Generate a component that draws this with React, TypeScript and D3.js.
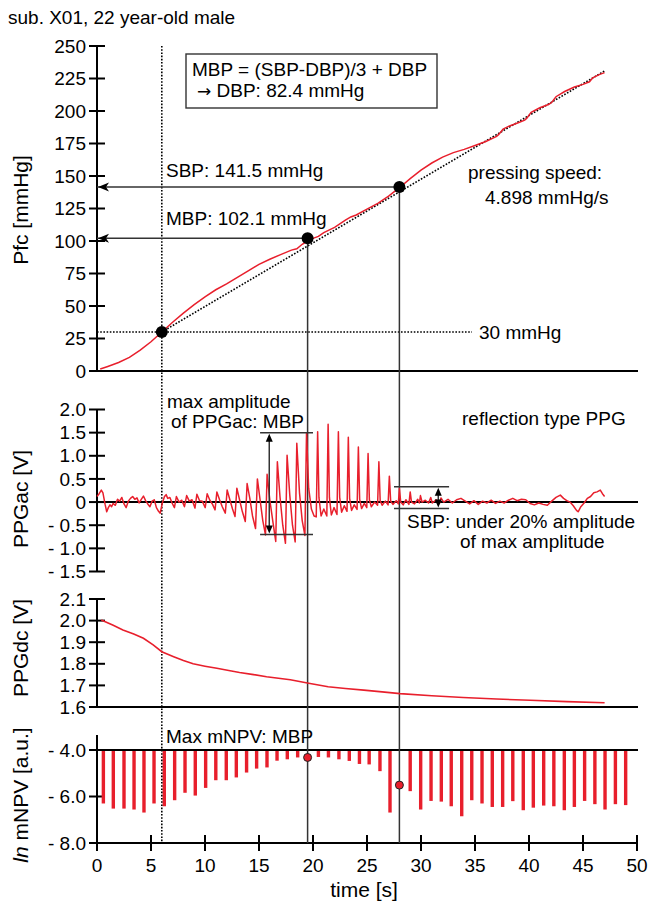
import { scaleLinear, line } from "d3";

const RED = "#e81f2c";
const INK = "#333";
const FONT = '"Liberation Sans", Arial, Helvetica, sans-serif';

// ticks
const timeTicks = [0, 5, 10, 15, 20, 25, 30, 35, 40, 45, 50];
const pfcTicks = [0, 25, 50, 75, 100, 125, 150, 175, 200, 225, 250];
const ppgacTicks = [2, 1.5, 1, 0.5, 0, -0.5, -1, -1.5];
const ppgacTickLabels = ["2.0", "1.5", "1.0", "0.5", "0", "- 0.5", "- 1.0", "- 1.5"];
const ppgdcTicks = [2.1, 2.0, 1.9, 1.8, 1.7, 1.6];
const ppgdcTickLabels = ["2.1", "2.0", "1.9", "1.8", "1.7", "1.6"];
const npvTicks = [-4, -6, -8];
const npvTickLabels = ["- 4.0", "- 6.0", "- 8.0"];

// key values
const mbpTime = 19.5;
const sbpTime = 28.0;
const mbpValue = 102.1;
const sbpValue = 141.5;
const startTime = 6;
const startPressure = 30;
const pressingSpeed = 4.898;
const fitEndTime = 47;

// Pfc (mmHg) over time
const pfcSeries: [number, number][] = [
  [0.3, 1.5], [1, 3.5], [2, 6.5], [3, 10.5], [4, 16], [5, 22.5], [6, 30],
  [7, 37.5], [8, 44.5], [9, 51], [10, 57], [11, 62.5], [12, 67], [13, 72],
  [14, 77], [15, 82], [16, 86], [17, 89.5], [18, 93], [18.5, 94], [19, 97.5],
  [19.5, 100], [20, 102], [20.5, 103.5], [21, 106.5], [22, 110.5], [23, 116],
  [23.5, 118.5], [24, 120], [25, 124.5], [26, 129], [27, 134.5], [28, 141],
  [29, 148], [30, 154.5], [31, 160], [32, 164.5], [33, 168], [34, 170.5],
  [35, 173.5], [36, 176.5], [37, 180.5], [37.2, 182], [37.6, 186], [38.2, 188.5],
  [39, 191], [39.6, 193], [39.8, 194.5], [40.2, 199], [41, 202.5], [41.8, 205],
  [42.1, 206.5], [42.5, 211], [43.3, 215], [44.2, 218.5], [45, 220.5],
  [45.6, 222.5], [45.9, 225.5], [46.5, 228], [47, 229.5],
];

// PPGac (V) over time
const ppgacSeries: [number, number][] = [
  [0.0, 0.12], [0.2, 0.18], [0.4, 0.26], [0.55, 0.2], [0.75, -0.05], [0.9, -0.21],
  [1.05, -0.12], [1.2, -0.06], [1.35, -0.1], [1.5, -0.03], [1.7, -0.07], [1.9, 0.06],
  [2.1, 0.02], [2.3, 0.1], [2.5, -0.04], [2.7, -0.12], [2.9, 0.02], [3.1, 0.08],
  [3.3, 0.12], [3.5, 0.06], [3.7, 0.09], [3.9, -0.02], [4.1, 0.06], [4.3, 0.13],
  [4.5, 0.03], [4.7, -0.04], [4.9, -0.1], [5.1, 0.02], [5.3, 0.05], [5.5, -0.12],
  [5.7, -0.2], [5.85, -0.24], [6.05, -0.02], [6.25, 0.12], [6.4, 0.16], [6.55, 0.08],
  [6.75, 0.1], [6.95, -0.02], [7.17, -0.12], [7.35, 0.12], [7.6, 0.0], [7.85, 0.04],
  [8.1, -0.1], [8.3, 0.14], [8.55, 0.02], [8.8, 0.05], [9.07, -0.13], [9.25, 0.17],
  [9.5, 0.03], [9.75, 0.02], [10.02, -0.12], [10.2, 0.18], [10.45, 0.04], [10.7, -0.05],
  [10.93, -0.17], [11.1, 0.22], [11.35, 0.05], [11.6, -0.1], [11.88, -0.24], [12.05, 0.26],
  [12.3, 0.05], [12.55, -0.15], [12.78, -0.31], [12.95, 0.3], [13.2, 0.05], [13.45, -0.2],
  [13.73, -0.42], [13.9, 0.4], [14.15, 0.08], [14.4, -0.3], [14.68, -0.57], [14.85, 0.5],
  [15.1, 0.05], [15.35, -0.4], [15.6, -0.71], [15.75, 0.6], [16.0, 0.05], [16.3, -0.45],
  [16.55, -0.85], [16.7, 0.87], [16.95, 0.1], [17.2, -0.5], [17.45, -0.89], [17.6, 1.01],
  [17.85, 0.15], [18.1, -0.5], [18.35, -0.86], [18.5, 1.27], [18.75, 0.2], [19.0, -0.4],
  [19.25, -0.72], [19.4, 1.5], [19.6, 0.3], [19.85, -0.15], [20.1, -0.3], [20.3, -0.32],
  [20.43, 1.52], [20.55, 0.1], [20.75, -0.3], [21.0, -0.15], [21.28, -0.3], [21.4, 1.68],
  [21.52, 0.1], [21.7, -0.28], [21.95, -0.12], [22.22, -0.27], [22.35, 1.52], [22.47, 0.1],
  [22.65, -0.22], [22.9, -0.08], [23.15, -0.2], [23.27, 1.4], [23.39, 0.08], [23.57, -0.18],
  [23.82, -0.06], [24.08, -0.16], [24.2, 1.19], [24.32, 0.06], [24.5, -0.14], [24.75, -0.03],
  [24.98, -0.12], [25.1, 1.05], [25.22, 0.05], [25.4, -0.1], [25.7, 0.0], [25.98, -0.07],
  [26.1, 0.87], [26.22, 0.03], [26.4, -0.07], [26.7, 0.02], [26.95, -0.06], [27.07, 0.56],
  [27.19, 0.02], [27.4, -0.05], [27.7, 0.03], [27.9, -0.04], [28.0, 0.3], [28.12, 0.0],
  [28.35, -0.06], [28.6, 0.05], [28.88, -0.05], [29.0, 0.22], [29.12, 0.0], [29.4, -0.04],
  [29.7, 0.06], [29.85, -0.02], [29.95, 0.14], [30.1, 0.0], [30.4, 0.04], [30.7, -0.02],
  [30.9, 0.1], [31.05, -0.02], [31.4, 0.05], [31.7, -0.03], [31.85, 0.09], [32.1, 0.0],
  [32.5, 0.06], [32.9, -0.02], [33.3, 0.05], [33.7, 0.08], [34.1, 0.02], [34.5, -0.04],
  [34.9, 0.03], [35.3, -0.05], [35.7, 0.02], [36.1, -0.02], [36.5, 0.04], [36.9, -0.03],
  [37.3, 0.02], [37.7, -0.02], [38.1, 0.04], [38.5, 0.08], [38.9, 0.03], [39.3, 0.06],
  [39.7, 0.05], [40.1, -0.03], [40.5, -0.06], [40.9, -0.02], [41.3, -0.05], [41.7, -0.07],
  [42.1, 0.02], [42.5, 0.1], [42.9, 0.15], [43.2, 0.08], [43.5, 0.03], [43.8, 0.0],
  [44.1, -0.08], [44.4, -0.18], [44.55, -0.21], [44.8, -0.1], [45.1, -0.02], [45.4, 0.08],
  [45.7, 0.12], [46.0, 0.2], [46.3, 0.22], [46.6, 0.26], [46.8, 0.18], [47.0, 0.12],
];

// PPGdc (V) over time
const ppgdcSeries: [number, number][] = [
  [0.4, 2.003], [1.5, 1.978], [2.4, 1.957], [3.4, 1.938], [4.3, 1.918], [5.2, 1.888],
  [6.0, 1.856], [7.1, 1.833], [8.0, 1.815], [8.9, 1.8], [10.0, 1.789], [11.1, 1.779],
  [12.2, 1.769], [13.2, 1.76], [14.5, 1.75], [15.7, 1.74], [16.8, 1.733], [17.9, 1.726],
  [19.6, 1.71], [21.4, 1.694], [23.0, 1.686], [24.7, 1.678], [26.4, 1.67], [28.06, 1.662],
  [31.0, 1.652], [33.9, 1.644], [37.0, 1.637], [40.1, 1.631], [43.5, 1.625], [47.0, 1.62],
];

// ln mNPV per beat
const npvTimes = [
  0.59, 1.51, 2.5, 3.43, 4.35, 5.28, 6.23, 7.19, 8.15, 9.1, 10.06, 11.0, 11.97, 12.9,
  13.85, 14.78, 15.74, 16.67, 17.62, 18.58, 20.5, 21.43, 22.4, 23.36, 24.3, 25.2,
  26.2, 27.13, 29.0, 29.97, 30.93, 31.88, 32.8, 33.77, 34.7, 35.65, 36.6, 37.56,
  38.5, 39.47, 40.4, 41.36, 42.3, 43.27, 44.2, 45.15, 46.1, 47.04, 48.0, 48.95,
];
const npvValues = [
  -6.3, -6.52, -6.52, -6.56, -6.69, -6.3, -6.42, -6.16, -5.84, -5.96, -5.63, -5.3, -5.3,
  -5.18, -4.97, -4.8, -4.75, -4.46, -4.4, -4.32, -4.3, -4.32, -4.4, -4.47, -4.6, -4.62,
  -4.91, -6.69, -5.77, -6.56, -6.19, -6.22, -6.42, -6.85, -6.16, -6.3, -6.45, -6.45,
  -6.2, -6.59, -6.48, -6.39, -6.42, -6.59, -6.45, -6.19, -6.33, -6.56, -6.33, -6.37,
];
const npvAtMbp = -4.32;
const npvAtSbp = -5.51;

// amplitude markers (V)
const maxAmpTop = 1.5;
const maxAmpBottom = -0.7;
const sbpAmpTop = 0.33;
const sbpAmpBottom = -0.14;

const x = scaleLinear().domain([0, 50]).range([97, 637]);
const yPfc = scaleLinear().domain([0, 250]).range([371, 46]);
const yAc = scaleLinear().domain([-1.5, 2]).range([571.5, 409.5]);
const yDc = scaleLinear().domain([1.6, 2.1]).range([707, 599]);
const yNpv = scaleLinear().domain([-8, -4]).range([843, 750]);

const xLeft = 97;
const xRight = 638;

const arrowLeft = (ax: number, ay: number) =>
  `M${ax},${ay} L${ax + 11},${ay - 4.5} L${ax + 8},${ay} L${ax + 11},${ay + 4.5} Z`;
const arrowUp = (ax: number, ay: number) =>
  `M${ax},${ay} L${ax - 3.5},${ay + 8} L${ax + 3.5},${ay + 8} Z`;
const arrowDown = (ax: number, ay: number) =>
  `M${ax},${ay} L${ax - 3.5},${ay - 8} L${ax + 3.5},${ay - 8} Z`;

function YAxis({ scale, ticks, labels, top, bottom }: any) {
  return (
    <g>
      <line x1={xLeft} x2={xLeft} y1={top} y2={bottom} stroke="#000" strokeWidth={2} />
      {ticks.map((t: number, i: number) => (
        <g key={t}>
          <line x1={xLeft - 8} x2={xLeft + 8} y1={scale(t)} y2={scale(t)} stroke="#000" strokeWidth={2} />
          <text x={86} y={scale(t)} dy="0.35em" textAnchor="end" fontSize={19}>
            {labels ? labels[i] : t}
          </text>
        </g>
      ))}
    </g>
  );
}

export default function App() {
  const pfcLine = line<[number, number]>()
    .x((d) => x(d[0]))
    .y((d) => yPfc(d[1]));
  const acLine = line<[number, number]>()
    .x((d) => x(d[0]))
    .y((d) => yAc(d[1]));
  const dcLine = line<[number, number]>()
    .x((d) => x(d[0]))
    .y((d) => yDc(d[1]));

  const fitEnd = startPressure + pressingSpeed * (fitEndTime - startTime);
  const dotted = { stroke: "#000", strokeWidth: 1.6, strokeDasharray: "1.6 1.6" };

  const mx = x(mbpTime);
  const sx = x(sbpTime);
  const ampL = x(15.1);
  const ampR = x(20.0);
  const ampX = x(15.95);
  const sAmpL = x(27.5);
  const sAmpR = x(32.6);
  const sAmpX = x(31.6);

  return (
    <svg
      width={650}
      height={903}
      fontFamily={FONT}
      style={{ position: "absolute", left: 0, top: 0, display: "block", background: "#fff" }}
    >
      <text x={8} y={24} fontSize={19}>sub. X01, 22 year-old male</text>

      {/* axis titles */}
      <text transform="translate(28,210) rotate(-90)" textAnchor="middle" fontSize={21}>Pfc [mmHg]</text>
      <text transform="translate(28,499) rotate(-90)" textAnchor="middle" fontSize={21}>PPGac [V]</text>
      <text transform="translate(28,648) rotate(-90)" textAnchor="middle" fontSize={21}>PPGdc [V]</text>
      <text transform="translate(28,795) rotate(-90)" textAnchor="middle" fontSize={21}>
        <tspan fontStyle="italic">ln</tspan> mNPV [a.u.]
      </text>

      {/* Pfc panel */}
      <YAxis scale={yPfc} ticks={pfcTicks} top={yPfc(250)} bottom={yPfc(0)} />
      <line x1={xLeft} x2={xRight} y1={yPfc(0)} y2={yPfc(0)} stroke="#000" strokeWidth={2} />

      {/* PPGac panel */}
      <YAxis scale={yAc} ticks={ppgacTicks} labels={ppgacTickLabels} top={yAc(2)} bottom={yAc(-1.5)} />
      <line x1={xLeft} x2={xRight} y1={yAc(0)} y2={yAc(0)} stroke="#000" strokeWidth={2} />

      {/* PPGdc panel */}
      <YAxis scale={yDc} ticks={ppgdcTicks} labels={ppgdcTickLabels} top={yDc(2.1)} bottom={yDc(1.6)} />
      <line x1={xLeft} x2={xRight} y1={yDc(1.6)} y2={yDc(1.6)} stroke="#000" strokeWidth={2} />

      {/* mNPV panel */}
      <YAxis scale={yNpv} ticks={npvTicks} labels={npvTickLabels} top={735} bottom={yNpv(-8)} />
      {npvTimes.map((t, i) => (
        <rect
          key={t}
          x={x(t) - 1.7}
          y={yNpv(-4)}
          width={3.4}
          height={yNpv(npvValues[i]) - yNpv(-4)}
          fill={RED}
        />
      ))}
      <line x1={xLeft} x2={xRight} y1={yNpv(-4)} y2={yNpv(-4)} stroke="#000" strokeWidth={2} />
      <line x1={xLeft} x2={xRight} y1={yNpv(-8)} y2={yNpv(-8)} stroke="#000" strokeWidth={2} />
      {timeTicks.map((t) => (
        <g key={t}>
          <line x1={x(t)} x2={x(t)} y1={yNpv(-8) - 8} y2={yNpv(-8) + 8} stroke="#000" strokeWidth={2} />
          <text x={x(t)} y={872} textAnchor="middle" fontSize={19}>{t}</text>
        </g>
      ))}
      <text x={364} y={897} textAnchor="middle" fontSize={21}>time [s]</text>

      {/* reference lines */}
      <line x1={x(startTime)} x2={x(startTime)} y1={46} y2={yNpv(-8)} {...dotted} />
      <line x1={xLeft} x2={472} y1={yPfc(startPressure)} y2={yPfc(startPressure)} {...dotted} />
      <line
        x1={x(startTime)}
        y1={yPfc(startPressure)}
        x2={x(fitEndTime)}
        y2={yPfc(fitEnd)}
        {...dotted}
      />
      <line x1={mx} x2={mx} y1={yPfc(mbpValue)} y2={yNpv(-8)} stroke={INK} strokeWidth={1.5} />
      <line x1={sx} x2={sx} y1={yPfc(sbpValue)} y2={yNpv(-8)} stroke={INK} strokeWidth={1.5} />
      <line x1={xLeft} x2={sx} y1={yPfc(sbpValue)} y2={yPfc(sbpValue)} stroke={INK} strokeWidth={1.5} />
      <line x1={xLeft} x2={mx} y1={yPfc(mbpValue)} y2={yPfc(mbpValue)} stroke={INK} strokeWidth={1.5} />
      <path d={arrowLeft(xLeft + 1, yPfc(sbpValue))} fill="#000" />
      <path d={arrowLeft(xLeft + 1, yPfc(mbpValue))} fill="#000" />

      {/* data lines */}
      <path d={pfcLine(pfcSeries) ?? ""} fill="none" stroke={RED} strokeWidth={1.5} />
      <path d={acLine(ppgacSeries) ?? ""} fill="none" stroke={RED} strokeWidth={1.5} strokeLinejoin="round" />
      <path d={dcLine(ppgdcSeries) ?? ""} fill="none" stroke={RED} strokeWidth={1.6} />

      {/* points */}
      <circle cx={x(startTime)} cy={yPfc(startPressure)} r={6} fill="#000" />
      <circle cx={mx} cy={yPfc(mbpValue)} r={6} fill="#000" />
      <circle cx={sx} cy={yPfc(sbpValue)} r={6} fill="#000" />
      <circle cx={mx} cy={yNpv(npvAtMbp)} r={4} fill={RED} stroke="#222" strokeWidth={1} />
      <circle cx={sx} cy={yNpv(npvAtSbp)} r={4} fill={RED} stroke="#222" strokeWidth={1} />

      {/* amplitude markers */}
      <line x1={ampL} x2={ampR} y1={yAc(maxAmpTop)} y2={yAc(maxAmpTop)} stroke={INK} strokeWidth={1.5} />
      <line x1={ampL} x2={ampR} y1={yAc(maxAmpBottom)} y2={yAc(maxAmpBottom)} stroke={INK} strokeWidth={1.5} />
      <line x1={ampX} x2={ampX} y1={yAc(maxAmpTop) + 4} y2={yAc(maxAmpBottom) - 4} stroke={INK} strokeWidth={1.5} />
      <path d={arrowUp(ampX, yAc(maxAmpTop) + 1)} fill="#000" />
      <path d={arrowDown(ampX, yAc(maxAmpBottom) - 1)} fill="#000" />
      <line x1={sAmpL} x2={sAmpR} y1={yAc(sbpAmpTop)} y2={yAc(sbpAmpTop)} stroke={INK} strokeWidth={1.5} />
      <line x1={sAmpL} x2={sAmpR} y1={yAc(sbpAmpBottom)} y2={yAc(sbpAmpBottom)} stroke={INK} strokeWidth={1.5} />
      <line x1={sAmpX} x2={sAmpX} y1={yAc(sbpAmpTop) + 4} y2={yAc(sbpAmpBottom) - 4} stroke={INK} strokeWidth={1.5} />
      <path d={arrowUp(sAmpX, yAc(sbpAmpTop) + 1)} fill="#000" />
      <path d={arrowDown(sAmpX, yAc(sbpAmpBottom) - 1)} fill="#000" />

      {/* annotations */}
      <rect x={186} y={54} width={251} height={54} fill="#fff" stroke={INK} strokeWidth={1.4} />
      <text x={192} y={76} fontSize={19}>MBP = (SBP-DBP)/3 + DBP</text>
      <text x={197} y={97} fontSize={19}>
        <tspan fontFamily='"DejaVu Sans", sans-serif' fontSize={17}>→</tspan> DBP: 82.4 mmHg
      </text>
      <text x={166} y={177} fontSize={19}>SBP: 141.5 mmHg</text>
      <text x={166} y={225} fontSize={19}>MBP: 102.1 mmHg</text>
      <text x={468} y={179} fontSize={19}>pressing speed:</text>
      <text x={485} y={204} fontSize={19}>4.898 mmHg/s</text>
      <text x={479} y={339} fontSize={19}>30 mmHg</text>
      <text x={167} y={408} fontSize={19}>max amplitude</text>
      <text x={171} y={428} fontSize={19}>of PPGac: MBP</text>
      <text x={462} y={425} fontSize={19}>reflection type PPG</text>
      <text x={407} y={528} fontSize={19}>SBP: under 20% amplitude</text>
      <text x={460} y={548} fontSize={19}>of max amplitude</text>
      <text x={166} y={743} fontSize={19}>Max mNPV: MBP</text>
    </svg>
  );
}
